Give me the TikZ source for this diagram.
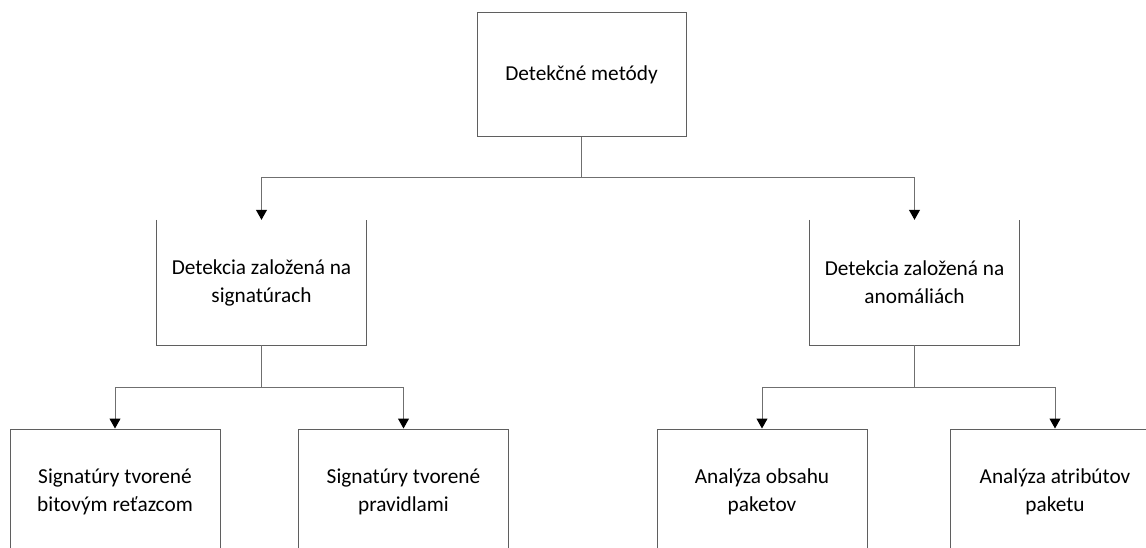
\documentclass[tikz,border=0pt]{standalone}
\usepackage{fontspec}
\setmainfont{Carlito}
\usetikzlibrary{arrows.meta}
\definecolor{boxc}{HTML}{5F5F5F}
\definecolor{linec}{HTML}{6F6F6F}
\newcommand{\boxfont}{\fontsize{21.3}{28}\selectfont}
\begin{document}
\begin{tikzpicture}[x=1pt,y=-1pt,
  box/.style={minimum width=210pt, minimum height=125pt, inner sep=0pt, align=center, font=\boxfont, text=black},
  frame/.style={draw=boxc, line width=1pt},
  edge/.style={draw=linec, line width=1pt},
  arr/.style={-{Triangle[length=10pt,width=11pt,color=black]}}]
\useasboundingbox (0,0) rectangle (1146,548);
\clip (0,0) rectangle (1146,548);
\fill[white] (0,0) rectangle (1146,548);
% root
\node[box, frame, minimum width=209pt, minimum height=124pt] (root) at (581.5,75) {Detekčné metódy};
% middle level (no top edge)
\node[box] (sig) at (261.5,282.5) {Detekcia založená na\\signatúrach};
\draw[frame] (sig.north west) -- (sig.south west) -- (sig.south east) -- (sig.north east);
\node[box] (ano) at (914.5,282.5) {Detekcia založená na\\anomáliách};
\draw[frame] (ano.north west) -- (ano.south west) -- (ano.south east) -- (ano.north east);
% bottom level
\node[box, frame, minimum height=126pt] (b1) at (115,492) {Signatúry tvorené\\bitovým reťazcom};
\node[box, frame, minimum height=126pt] (b2) at (403.5,492) {Signatúry tvorené\\pravidlami};
\node[box, frame, minimum height=126pt] (b3) at (762,492) {Analýza obsahu\\paketov};
\node[box, frame, minimum height=126pt] (b4) at (1055,492) {Analýza atribútov\\paketu};
% junctions
\coordinate (j0) at (581.5,178);
\coordinate (j1) at (261.5,387);
\coordinate (j2) at (914.5,387);
% connectors
\draw[edge] (root.south) -- (j0);
\draw[edge,arr] (j0) -| (sig.north);
\draw[edge,arr] (j0) -| (ano.north);
\draw[edge] (sig.south) -- (j1);
\draw[edge,arr] (j1) -| (b1.north);
\draw[edge,arr] (j1) -| (b2.north);
\draw[edge] (ano.south) -- (j2);
\draw[edge,arr] (j2) -| (b3.north);
\draw[edge,arr] (j2) -| (b4.north);
\end{tikzpicture}
\end{document}
